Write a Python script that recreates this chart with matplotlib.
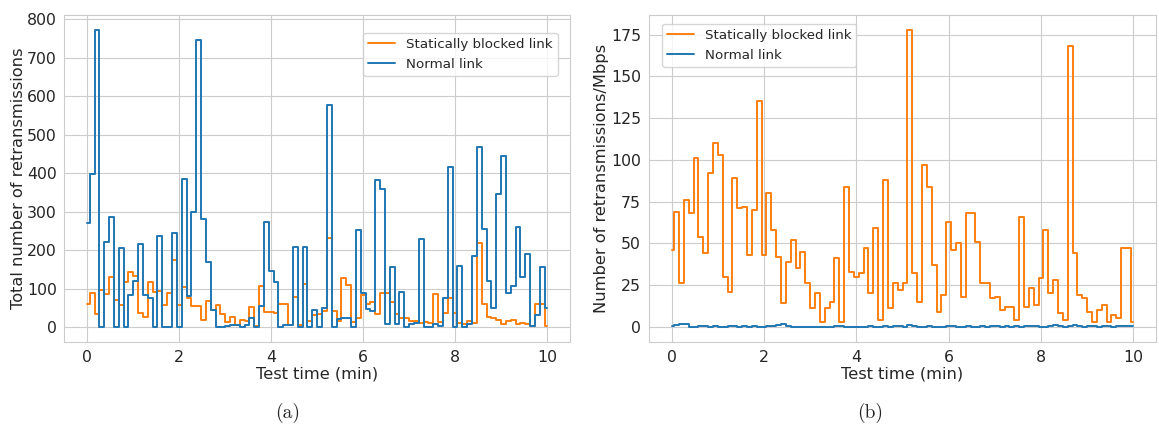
import numpy as np
import matplotlib.pyplot as plt
import seaborn as sns

# ---- data (one sample every ~6 s) ----
blocked_total = [60, 89, 34, 97, 87, 130, 70, 57, 118, 142, 132, 38, 27, 116, 92, 93, 57, 89, 175, 57,
                 104, 76, 54, 54, 18, 67, 45, 58, 35, 13, 26, 6, 18, 15, 52, 4, 108, 40, 40, 38,
                 61, 61, 5, 77, 5, 113, 15, 32, 34, 41, 231, 41, 17, 127, 110, 13, 24, 84, 59, 66,
                 35, 89, 89, 66, 35, 24, 24, 16, 16, 11, 13, 11, 86, 13, 37, 76, 37, 11, 7, 16,
                 11, 218, 59, 26, 24, 18, 7, 16, 18, 7, 11, 7, 4, 61, 59, 4]
normal_total = [271, 398, 773, 0, 220, 285, 0, 205, 0, 84, 120, 215, 84, 75, 0, 236, 0, 0, 245, 0,
                384, 80, 300, 747, 280, 170, 45, 0, 0, 2, 5, 6, 0, 5, 25, 0, 55, 274, 145, 117,
                0, 5, 5, 207, 0, 209, 0, 45, 0, 50, 578, 0, 20, 25, 25, 0, 253, 89, 46, 41,
                382, 358, 7, 155, 7, 90, 0, 7, 10, 228, 0, 0, 7, 4, 76, 415, 0, 160, 0, 7,
                185, 468, 254, 119, 50, 347, 444, 89, 106, 261, 129, 190, 3, 31, 157, 51]

blocked_rate = [46, 69, 26, 76, 68, 101, 54, 44, 92, 110, 103, 30, 21, 89, 71, 72, 43, 70, 135, 43,
                80, 58, 42, 14, 39, 52, 35, 45, 26, 11, 20, 3, 11, 15, 41, 3, 84, 33, 30, 32,
                47, 20, 59, 4, 88, 11, 26, 22, 26, 178, 32, 15, 97, 84, 37, 9, 19, 63, 46, 50,
                18, 68, 68, 51, 26, 26, 17, 18, 10, 12, 12, 4, 66, 12, 23, 13, 29, 58, 20, 28,
                8, 4, 168, 44, 19, 17, 9, 3, 10, 13, 3, 7, 5, 47, 47, 3]
normal_rate = [0.6, 0.8, 1.4, 1.8, 0.1, -0.2, 0.2, 0.3, -0.1, 0.2, -0.2, 0.0, 0.2, 0.3, -0.1, 0.4, 0.0, 0.5, 0.0, -0.1,
               0.6, 0.2, 1.0, 1.6, 0.6, 0.1, -0.1, -0.2, -0.2, -0.2, -0.2, -0.2, -0.2, -0.1, 0.3, 0.5, 0.0, -0.2, -0.2, -0.1,
               -0.2, 0.3, -0.2, -0.2, 0.4, -0.2, 0.2, 0.4, 0.0, 1.0, 0.2, -0.1, -0.1, 0.3, 0.1, -0.2, -0.1, 0.5, 0.6, 0.0,
               -0.2, 0.2, -0.1, -0.1, 0.3, 0.0, 0.2, 0.7, 0.1, 0.2, -0.1, 0.4, -0.1, 0.2, 0.7, 0.2, 0.0, -0.1, 0.3, 0.9,
               0.3, 0.0, 0.7, 0.9, 0.2, 0.0, 0.6, 0.4, 0.0, 0.6, 0.2, 0.0, 0.4, 0.2, 0.3, 0.3]

t = np.linspace(0, 10, len(normal_total))

sns.set_style("whitegrid")
plt.rcParams["font.family"] = ["DejaVu Sans"]

fig = plt.figure(figsize=(11.59, 4.32), dpi=100)
ax1 = fig.add_axes([0.0555, 0.2083, 0.4363, 0.7577])
ax2 = fig.add_axes([0.5596, 0.2083, 0.4382, 0.7577])

orange = "#ff7f0e"
blue = "#1f77b4"

# ---- (a) total retransmissions ----
ax1.plot(t, blocked_total, drawstyle="steps-mid", color=orange, lw=1.4, label="Statically blocked link")
ax1.plot(t, normal_total, drawstyle="steps-mid", color=blue, lw=1.4, label="Normal link")
ax1.set_xlabel("Test time (min)", fontsize=11.7, labelpad=1)
ax1.set_ylabel("Total number of retransmissions", fontsize=11.7, labelpad=0.5)
ax1.legend(loc="upper right", bbox_to_anchor=(0.989, 0.965), fontsize=9.6)

# ---- (b) retransmissions per Mbps ----
ax2.plot(t, blocked_rate, drawstyle="steps-mid", color=orange, lw=1.4, label="Statically blocked link")
ax2.plot(t, normal_rate, drawstyle="steps-mid", color=blue, lw=1.4, label="Normal link")
ax2.set_xlabel("Test time (min)", fontsize=11.7, labelpad=1)
ax2.set_ylabel("Number of retransmissions/Mbps", fontsize=11.7, labelpad=1.5)
ax2.set_yticks([0, 25, 50, 75, 100, 125, 150, 175])
ax2.legend(loc="upper left", bbox_to_anchor=(0.013, 0.993), fontsize=9.6)

for ax in (ax1, ax2):
    ax.tick_params(labelsize=11.3, pad=2)
    ax.set_xticks([0, 2, 4, 6, 8, 10])

# ---- captions ----
fig.text(0.248, 0.044, "(a)", fontsize=14, family="cmr10", ha="center", va="center")
fig.text(0.751, 0.044, "(b)", fontsize=14, family="cmr10", ha="center", va="center")

fig.savefig("out.png", dpi=100)
